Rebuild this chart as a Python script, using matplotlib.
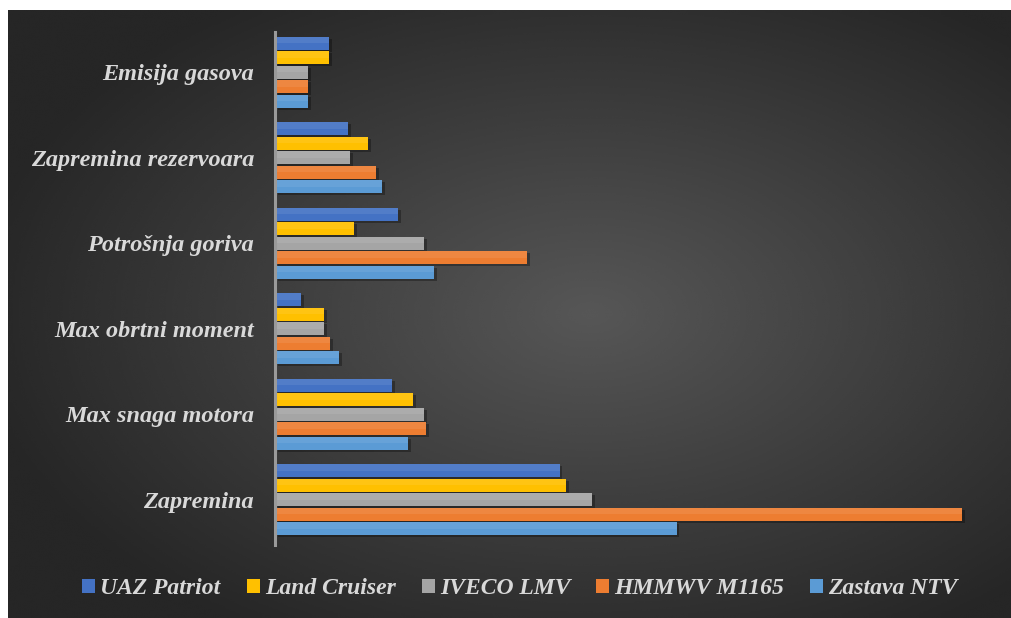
import numpy as np
import matplotlib
matplotlib.use("Agg")
import matplotlib.pyplot as plt

# podaci (procijenjeno sa slike)
kategorije = ["Zapremina", "Max snaga motora", "Max obrtni moment",
              "Potrošnja goriva", "Zapremina rezervoara", "Emisija gasova"]
serije = ["UAZ Patriot", "Land Cruiser", "IVECO LMV", "HMMWV M1165", "Zastava NTV"]
boje = ["#4472C4", "#FFC000", "#A5A5A5", "#ED7D31", "#5B9BD5"]

uaz_patriot = [2693, 1106, 246, 1163, 690, 510]
land_cruiser = [2755, 1304, 463, 747, 879, 510]
iveco_lmv = [2998, 1408, 463, 1408, 709, 312]
hmmwv_m1165 = [6500, 1427, 520, 2382, 955, 312]
zastava_ntv = [3800, 1257, 605, 1503, 1011, 312]
vrijednosti = [uaz_patriot, land_cruiser, iveco_lmv, hmmwv_m1165, zastava_ntv]

W, H = 1012, 618
fig = plt.figure(figsize=(W / 100, H / 100), dpi=100)
fig.patch.set_facecolor("white")

# tamna pozadina sa radijalnim gradijentom
bg = fig.add_axes([8 / W, 0, 1 - 8 / W, 1 - 10 / H])
bg.set_axis_off()
yy, xx = np.mgrid[0:300, 0:500]
cx, cy = 0.58, 0.50
r = np.sqrt(((xx / 499 - cx) / 0.75) ** 2 + ((yy / 299 - cy) / 0.75) ** 2)
shade = np.clip(0.34 - 0.23 * r, 0.15, 0.34)
bg.imshow(shade, cmap="gray", vmin=0, vmax=1, aspect="auto",
          extent=[0, 1, 0, 1], interpolation="bicubic")
bg.set_xlim(0, 1)
bg.set_ylim(0, 1)

ax = fig.add_axes([275 / W, 73 / H, 700 / W, 513 / H])
ax.patch.set_alpha(0)

y = np.arange(len(kategorije))
visina = 0.152
korak = 0.17
for i, (ime, vals, c) in enumerate(zip(serije, vrijednosti, boje)):
    pos = y + (2 - i) * korak
    # sjenka
    ax.barh(pos - 0.025, vals, height=visina, left=25, color="black",
            alpha=0.3, zorder=1)
    ax.barh(pos, vals, height=visina, color=c, label=ime, zorder=2)
    # svjetliji gornji dio
    ax.barh(pos + visina * 0.25, vals, height=visina * 0.5, color="white",
            alpha=0.08, zorder=3)

ax.set_xlim(0, 6620)
ax.set_ylim(-0.53, 5.47)
ax.set_yticks(y)
ax.set_yticklabels(kategorije, fontfamily="Liberation Serif", fontstyle="italic",
                   fontweight="bold", fontsize=17.5, color="#d9d9d9")
ax.tick_params(axis="y", length=0, pad=15)
ax.set_xticks([])
for s in ["top", "right", "bottom"]:
    ax.spines[s].set_visible(False)
ax.spines["left"].set_color("#9a9a9a")
ax.spines["left"].set_linewidth(2.2)
ax.spines["left"].set_zorder(5)

leg = fig.legend(loc="center", bbox_to_anchor=(520 / W, 1 - 589 / H), ncol=5,
                 frameon=False, handlelength=0.55, handleheight=0.55,
                 handletextpad=0.22, columnspacing=1.1,
                 prop={"family": "Liberation Serif", "style": "italic",
                       "weight": "bold", "size": 17})
for t in leg.get_texts():
    t.set_color("#d9d9d9")

fig.savefig("out.png", dpi=100, facecolor="white")
